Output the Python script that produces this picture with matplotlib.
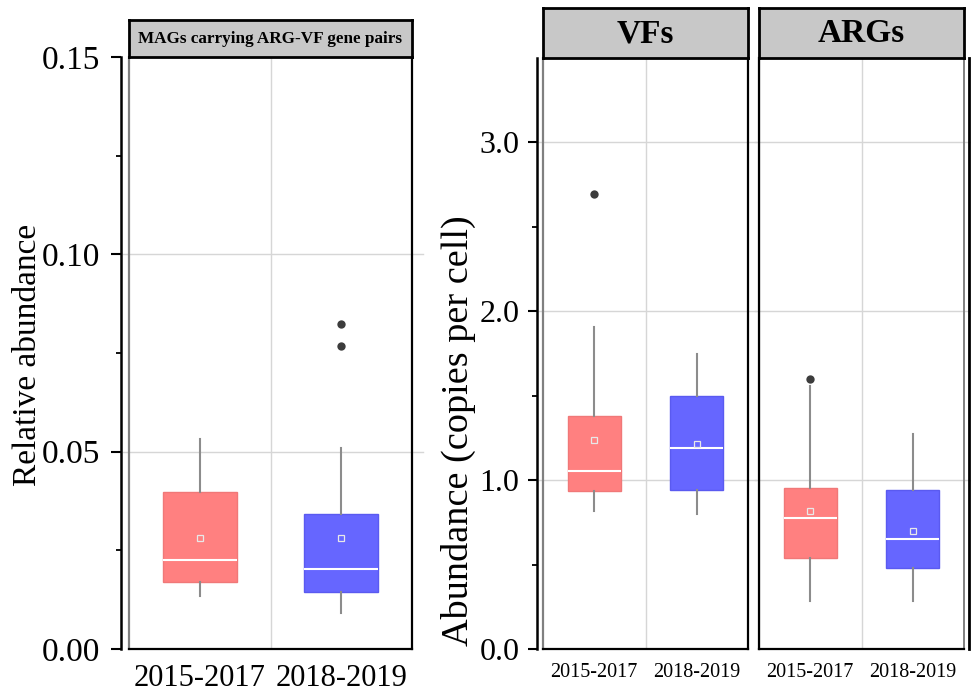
import matplotlib
matplotlib.use("Agg")
import matplotlib.pyplot as plt
from matplotlib.lines import Line2D

plt.rcParams["font.family"] = ["Liberation Serif", "DejaVu Serif"]

# ---- datos ----
groups = ["2015-2017", "2018-2019"]

mag_lo = [0.0134, 0.0091]
mag_q1 = [0.0170, 0.0144]
mag_med = [0.0225, 0.0203]
mag_q3 = [0.0398, 0.0342]
mag_hi = [0.0532, 0.0509]
mag_mean = [0.0281, 0.0281]
mag_out = [[], [0.0823, 0.0768]]

vf_lo = [0.818, 0.800]
vf_q1 = [0.937, 0.940]
vf_med = [1.052, 1.189]
vf_q3 = [1.380, 1.498]
vf_hi = [1.905, 1.745]
vf_mean = [1.237, 1.213]
vf_out = [[2.695], []]

arg_lo = [0.287, 0.287]
arg_q1 = [0.539, 0.482]
arg_med = [0.775, 0.654]
arg_q3 = [0.951, 0.940]
arg_hi = [1.555, 1.274]
arg_mean = [0.816, 0.696]
arg_out = [[1.599], []]

colors = ["#FF8080", "#6666FF"]
edges = ["#F07878", "#5A5AF0"]

W, H = 971, 694
fig = plt.figure(figsize=(W / 100, H / 100), dpi=100)


def px_axes(x0, y0, x1, y1):
    return fig.add_axes([x0 / W, 1 - y1 / H, (x1 - x0) / W, (y1 - y0) / H])


def stats(lo, q1, med, q3, hi, mean, out):
    return [dict(whislo=lo[i], q1=q1[i], med=med[i], q3=q3[i], whishi=hi[i],
                 mean=mean[i], fliers=out[i], label=groups[i]) for i in range(len(groups))]


def draw_boxes(ax, st):
    b = ax.bxp(st, positions=[0, 1], widths=0.52, patch_artist=True,
               showmeans=True, showcaps=False,
               medianprops=dict(color="white", lw=1.5),
               whiskerprops=dict(color="#8C8C8C", lw=1.5),
               meanprops=dict(marker="s", markersize=5, markerfacecolor="none",
                              markeredgecolor="#E8E8E8", markeredgewidth=0.9),
               flierprops=dict(marker="o", markersize=6, markerfacecolor="#3C3C3C",
                               markeredgecolor="none"),
               zorder=3)
    for p, c, e in zip(b["boxes"], colors, edges):
        p.set_facecolor(c)
        p.set_edgecolor(e)
        p.set_linewidth(1)
    ax.set_xlim(-0.5, 1.5)


def strip(x0, y0, x1, y1, text, size):
    s = px_axes(x0, y0, x1, y1)
    s.set_facecolor("#C8C8C8")
    s.set_xticks([])
    s.set_yticks([])
    for sp in s.spines.values():
        sp.set_linewidth(2)
    s.text(0.5, 0.48, text, ha="center", va="center", fontsize=size,
           fontweight="bold", transform=s.transAxes)


def frame(ax, grid_y, left_gray=False):
    for sp in ("top", "right", "bottom"):
        ax.spines[sp].set_linewidth(1.6)
    ax.spines["top"].set_visible(False)
    ax.add_line(Line2D([0, 0], [0, 1], transform=ax.transAxes, clip_on=False,
                       color="#808080" if left_gray else "black", lw=1.6))
    ax.axvline(0.5, color="#D6D6D6", lw=1, zorder=0)
    for g in grid_y:
        ax.axhline(g, color="#D6D6D6", lw=1, zorder=0, xmin=-0.02, xmax=1.04,
                   clip_on=False)
    ax.tick_params(axis="x", length=0)


# ---- panel izquierdo ----
ax1 = px_axes(129, 57, 412, 649)
draw_boxes(ax1, stats(mag_lo, mag_q1, mag_med, mag_q3, mag_hi, mag_mean, mag_out))
ax1.set_ylim(0, 0.15)
ax1.set_yticks([0, 0.05, 0.10, 0.15])
ax1.set_yticklabels(["0.00", "0.05", "0.10", "0.15"])
ax1.set_yticks([0.025, 0.075, 0.125], minor=True)
ax1.spines["left"].set_position(("outward", 6))
ax1.spines["left"].set_linewidth(1.8)
frame(ax1, [0.05, 0.10], left_gray=True)
ax1.tick_params(axis="y", which="major", length=7, width=1.5, pad=8, labelsize=24)
ax1.tick_params(axis="y", which="minor", length=3.6, width=1.3)
ax1.tick_params(axis="x", labelsize=22, pad=11)
strip(129, 20, 412, 57, "MAGs carrying ARG-VF gene pairs", 12.3)
fig.text(28 / W, 1 - 355 / H, "Relative abundance", rotation=90, ha="center",
         va="center", fontsize=24)

# ---- paneles derechos ----
ax2 = px_axes(543, 58, 748, 649)
ax3 = px_axes(759, 58, 964, 649)
draw_boxes(ax2, stats(vf_lo, vf_q1, vf_med, vf_q3, vf_hi, vf_mean, vf_out))
draw_boxes(ax3, stats(arg_lo, arg_q1, arg_med, arg_q3, arg_hi, arg_mean, arg_out))
for ax in (ax2, ax3):
    ax.set_ylim(0, 3.5)
    ax.tick_params(axis="x", labelsize=14.5, pad=10)

ax2.set_yticks([0, 1, 2, 3])
ax2.set_yticklabels(["0.0", "1.0", "2.0", "3.0"])
ax2.set_yticks([0.5, 1.5, 2.5], minor=True)
ax2.spines["left"].set_position(("outward", 4.5))
ax2.spines["left"].set_linewidth(1.8)
frame(ax2, [1, 2, 3], left_gray=True)
ax2.tick_params(axis="y", which="major", length=6.5, width=1.5, pad=6, labelsize=23)
ax2.tick_params(axis="y", which="minor", length=3.4, width=1.3)

ax3.set_yticks([])
ax3.spines["right"].set_position(("outward", 3.6))
frame(ax3, [1, 2, 3])
ax3.spines["right"].set_linewidth(2)
ax3.add_line(Line2D([1, 1], [0, 1], transform=ax3.transAxes, clip_on=False,
                    color="#808080", lw=1.4))

strip(543, 8, 748, 58, "VFs", 24)
strip(759, 8, 964, 58, "ARGs", 24)
fig.text(458 / W, 1 - 431 / H, "Abundance (copies per cell)", rotation=90,
         ha="center", va="center", fontsize=27.5)

fig.savefig("out.png", dpi=100)
